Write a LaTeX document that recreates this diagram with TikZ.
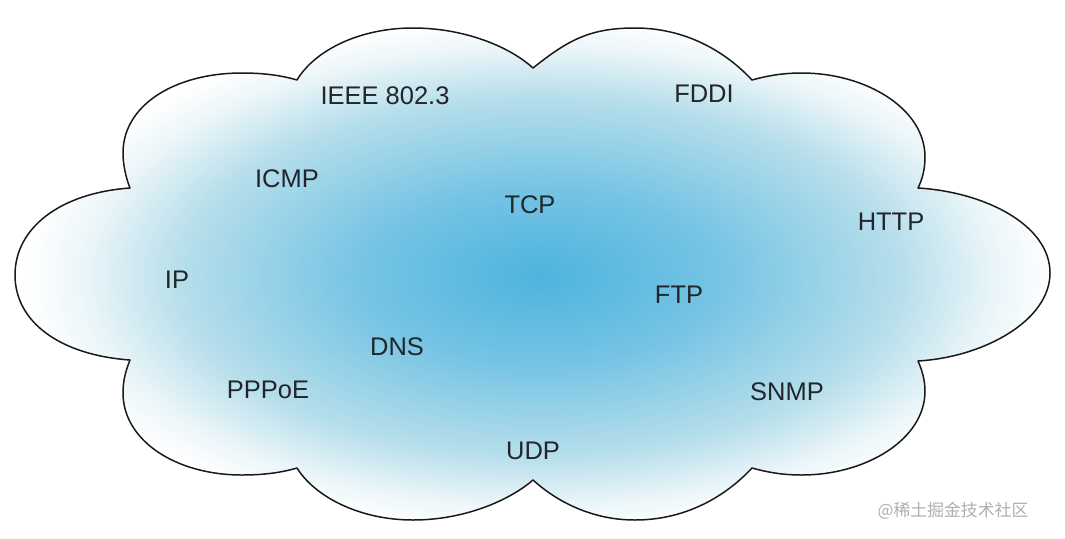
\documentclass[tikz,border=0pt]{standalone}
\usepackage{fontspec}
\setmainfont{Liberation Sans}
\newfontfamily\cjkfont{Noto Sans CJK SC}
\definecolor{cA}{RGB}{78,180,222}
\definecolor{cB}{RGB}{118,196,228}
\definecolor{cC}{RGB}{182,222,235}
\definecolor{cD}{RGB}{236,246,249}
\definecolor{txt}{RGB}{34,38,42}
\definecolor{wm}{RGB}{175,175,175}
\pgfdeclareradialshading{cloudshade}{\pgfpoint{0bp}{0bp}}{color(0bp)=(cA); color(8bp)=(cB); color(16bp)=(cC); color(20.5bp)=(cD); color(23bp)=(white); color(50bp)=(white)}
\newcommand\cloudoutline{(533,68) .. controls (568,40) and (590,28) .. (635,28)
 .. controls (685,28) and (725,51) .. (752,80)
 .. controls (770,75) and (785,73) .. (802,73)
 .. controls (865,73) and (925,108) .. (925,157)
 .. controls (925,170) and (922,180) .. (918,188)
 .. controls (985,192) and (1050,225) .. (1050,273)
 .. controls (1050,320) and (985,357) .. (918,361)
 .. controls (922,370) and (925,380) .. (925,391)
 .. controls (925,440) and (865,475) .. (802,475)
 .. controls (785,475) and (770,473) .. (752,468)
 .. controls (725,497) and (685,520) .. (635,520)
 .. controls (590,520) and (555,500) .. (533,480)
 .. controls (510,500) and (465,520) .. (413,520)
 .. controls (360,520) and (315,497) .. (297,468)
 .. controls (280,473) and (262,475) .. (242,475)
 .. controls (175,475) and (123,440) .. (123,393)
 .. controls (123,380) and (126,370) .. (130,360)
 .. controls (60,355) and (15,322) .. (15,275)
 .. controls (15,228) and (60,193) .. (130,188)
 .. controls (126,178) and (123,165) .. (123,153)
 .. controls (123,105) and (175,73) .. (242,73)
 .. controls (262,73) and (280,75) .. (297,80)
 .. controls (315,50) and (360,28) .. (413,28)
 .. controls (465,28) and (510,47) .. (533,68) -- cycle}
\begin{document}
\begin{tikzpicture}[x=0.02cm,y=-0.02cm,
  proto/.style={anchor=base,inner sep=0pt,text=txt,font=\fontsize{14.5}{16}\selectfont},
  outline/.style={draw=black!90,line width=0.85pt,line join=round}]
\useasboundingbox[fill=white] (0,0) rectangle (1065,538);
\begin{scope}
  \clip \cloudoutline;
  \shade[shading=cloudshade] (540,276) ellipse [x radius=11.2cm, y radius=5.6cm];
\end{scope}
\path[outline] \cloudoutline;
\node[proto] (ieee) at (385,104) {IEEE 802.3};
\node[proto] (fddi) at (704,102) {FDDI};
\node[proto] (icmp) at (287,187) {ICMP};
\node[proto] (tcp) at (530,213) {TCP};
\node[proto] (http) at (891,230) {HTTP};
\node[proto] (ip) at (177,288) {IP};
\node[proto] (ftp) at (679,303) {FTP};
\node[proto] (dns) at (397,355) {DNS};
\node[proto] (pppoe) at (268,398) {PPPoE};
\node[proto] (snmp) at (787,400) {SNMP};
\node[proto] (udp) at (533,459) {UDP};
\node[text=wm,inner sep=0pt,font=\cjkfont\fontsize{9.6}{11}\selectfont] (wmark) at (953,511) {@稀土掘金技术社区};
\end{tikzpicture}
\end{document}
